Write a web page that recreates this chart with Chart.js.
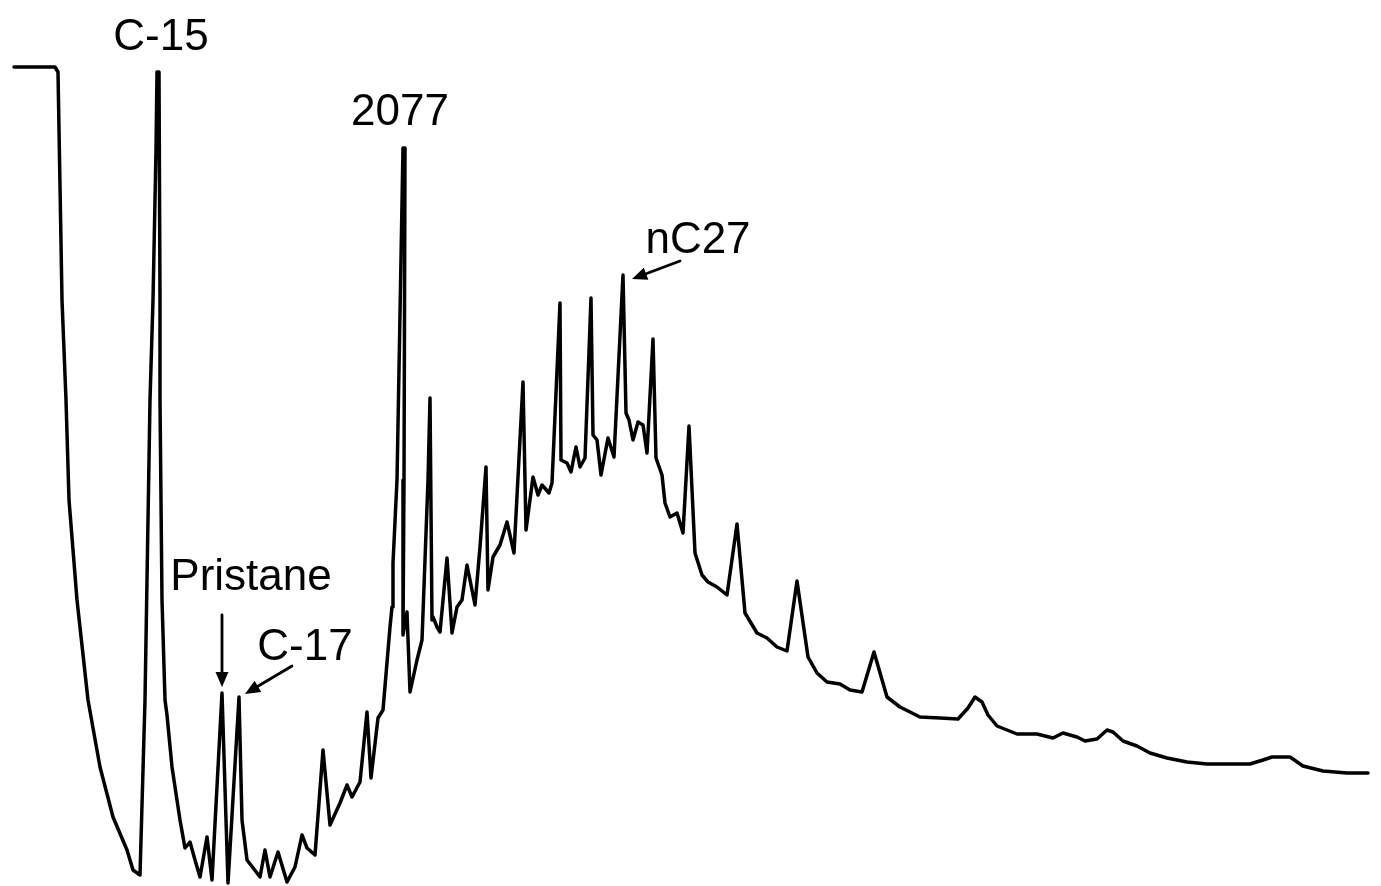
<!DOCTYPE html>
<html>
<head>
<meta charset="utf-8">
<title>Chromatogram</title>
<script src="https://cdn.jsdelivr.net/npm/chart.js@4"></script>
<style>
    html, body {margin: 0; padding: 0; background: #fff;}
    .chart-wrap {position: relative; width: 1381px; height: 886px;}
</style>
</head>
<body>
<div class="chart-wrap"><canvas id="chartGC"></canvas></div>
<script>
// retention (chart units) and detector response
const retention = [
    14, 55, 58, 62, 66, 69, 77, 88, 100, 113, 127, 133, 140, 145, 150, 153, 156, 157, 159, 160,
    160, 162, 165, 167, 172, 180, 185, 190, 195, 200, 207, 212, 222, 228, 239, 242, 247, 257, 260, 265,
    270, 278, 287, 295, 302, 307, 315, 323, 330, 340, 347, 352, 360, 367, 371, 378, 383, 390, 392, 393,
    397, 403, 405, 404, 403, 407, 410, 417, 422, 428, 430, 432, 433, 437, 440, 447, 452, 457, 462, 467,
    475, 480, 486, 488, 493, 500, 507, 514, 523, 526, 533, 538, 542, 549, 552, 560, 561, 567, 571, 576,
    580, 585, 591, 593, 597, 601, 608, 614, 623, 626, 629, 633, 638, 643, 647, 653, 656, 662, 665, 670,
    677, 683, 689, 695, 702, 708, 717, 727, 737, 745, 757, 767, 777, 787, 797, 808, 817, 827, 840, 850,
    862, 874, 887, 900, 920, 940, 958, 968, 975, 982, 988, 997, 1017, 1037, 1053, 1063, 1077, 1085, 1097, 1107,
    1113, 1123, 1137, 1150, 1167, 1187, 1207, 1233, 1250, 1263, 1272, 1290, 1303, 1323, 1347, 1368
];
const response = [
    819, 819, 814, 586, 486, 386, 286, 186, 119, 69, 36, 16, 11, 186, 486, 586, 736, 814, 814, 586,
    486, 286, 186, 171, 119, 66, 38, 44, 26, 9, 49, 6, 193, 3, 189, 66, 26, 13, 9, 36,
    9, 34, 4, 19, 51, 38, 31, 136, 61, 83, 101, 89, 104, 174, 108, 168, 176, 259, 279, 323,
    406, 738, 738, 406, 251, 274, 194, 226, 246, 406, 488, 266, 269, 259, 254, 328, 253, 279, 286, 321,
    281, 339, 419, 296, 329, 341, 364, 333, 504, 356, 409, 391, 401, 393, 403, 583, 426, 423, 414, 439,
    419, 428, 588, 451, 446, 411, 448, 429, 611, 473, 466, 446, 464, 461, 433, 547, 428, 411, 383, 369,
    373, 353, 460, 333, 311, 304, 299, 291, 362, 273, 253, 248, 239, 235, 305, 229, 213, 204, 202, 196,
    194, 234, 189, 179, 169, 168, 167, 178, 189, 184, 171, 160, 152, 152, 148, 153, 149, 145, 147, 156,
    154, 145, 140, 133, 128, 124, 122, 122, 122, 126, 129, 129, 120, 115, 113, 113
];

// labelled peaks
const peakNames = ['C-15', 'Pristane', 'C-17', '2077', 'nC27'];
const peakRetention = [157, 222, 239, 403, 623];

//chart - label placement (pixel offsets from the peak tip)
const labelStyle = {
    'C-15':     {dx: 4,  dy: -22},
    'Pristane': {dx: 29, dy: -103, arrow: [0, -78, 0, -6]},
    'C-17':     {dx: 66, dy: -37,  arrow: [53, -31, 6, -3]},
    '2077':     {dx: -3, dy: -23},
    'nC27':     {dx: 75, dy: -22,  arrow: [57, -14, 9, 4]}
};

function drawArrow(ctx, x1, y1, x2, y2) {
    const ang = Math.atan2(y2 - y1, x2 - x1);
    const head = 15, half = 6.5;
    const bx = x2 - head * Math.cos(ang), by = y2 - head * Math.sin(ang);
    ctx.beginPath();
    ctx.moveTo(x1, y1);
    ctx.lineTo(bx, by);
    ctx.lineWidth = 2.8;
    ctx.stroke();
    ctx.beginPath();
    ctx.moveTo(x2, y2);
    ctx.lineTo(bx + half * Math.sin(ang), by - half * Math.cos(ang));
    ctx.lineTo(bx - half * Math.sin(ang), by + half * Math.cos(ang));
    ctx.closePath();
    ctx.fill();
}

const points = retention.map((t, i) => ({x: t, y: response[i]}));

const ctxGC = document.getElementById('chartGC').getContext('2d');
new Chart(ctxGC, {
    type: 'line',
    data: {
        datasets: [{
            data: points,
            borderColor: '#000',
            borderWidth: 3.5,
            borderJoinStyle: 'round',
            borderCapStyle: 'round',
            pointRadius: 0,
            tension: 0,
            fill: false
        }]
    },
    options: {
        responsive: true,
        maintainAspectRatio: false,
        animation: false,
        layout: {padding: 0},
        plugins: {
            legend: {display: false},
            tooltip: {enabled: false}
        },
        scales: {
            x: {type: 'linear', min: 0, max: 1381, display: false},
            y: {min: 0, max: 886, display: false}
        }
    },
    plugins: [{
        id: 'white_bg',
        beforeDraw({ctx, width, height}) {
            ctx.save();
            ctx.fillStyle = '#fff';
            ctx.fillRect(0, 0, width, height);
            ctx.restore();
        }
    }, {
        id: 'peakLabels',
        afterDraw({ctx, scales}) {
            ctx.save();
            ctx.fillStyle = '#000';
            ctx.strokeStyle = '#000';
            ctx.lineCap = 'round';
            ctx.font = '44px "Liberation Sans", Arial, sans-serif';
            ctx.textAlign = 'center';
            ctx.textBaseline = 'alphabetic';
            peakNames.forEach((name, i) => {
                const idx = retention.indexOf(peakRetention[i]);
                const px = scales.x.getPixelForValue(peakRetention[i]);
                const py = scales.y.getPixelForValue(response[idx]);
                const s = labelStyle[name];
                ctx.fillText(name, px + s.dx, py + s.dy);
                if (s.arrow) {
                    const a = s.arrow;
                    drawArrow(ctx, px + a[0], py + a[1], px + a[2], py + a[3]);
                }
            });
            ctx.restore();
        }
    }]
});
</script>
</body>
</html>
